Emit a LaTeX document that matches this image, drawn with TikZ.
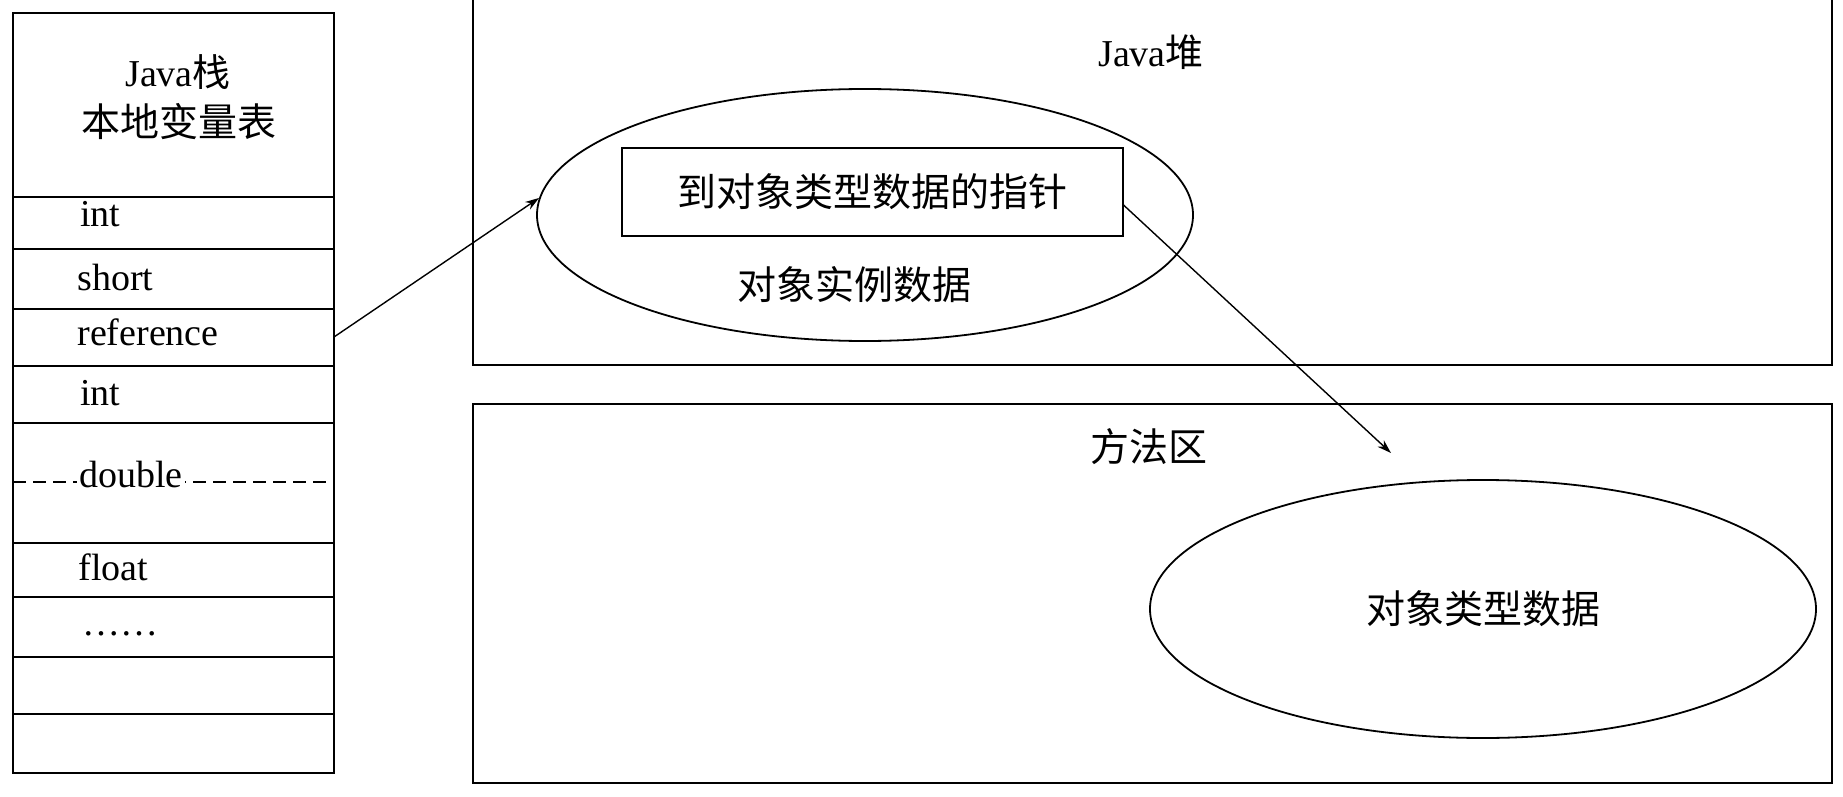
\documentclass[tikz,border=0pt]{standalone}
\usepackage{fontspec}
\setmainfont{Liberation Serif}
\newfontfamily\cjk{Noto Sans CJK SC}
\usetikzlibrary{arrows.meta,shapes.geometric}
\begin{document}
\begin{tikzpicture}[x=0.5pt,y=-0.5pt,
  frame/.style={line width=1.3pt},
  rowline/.style={line width=1.2pt},
  lbl/.style={inner sep=0pt, anchor=base west, font=\fontsize{19}{22}\selectfont},
  zh/.style={inner sep=0pt, font=\fontsize{19.5}{23}\selectfont\cjk},
  oval/.style={ellipse, draw, line width=0.9pt, inner sep=0pt},
  conn/.style={line width=0.7pt, -{Stealth[length=7pt,width=4.5pt]}}
]
\useasboundingbox (0,0) rectangle (1843,797);
\fill[white] (0,0) rectangle (1843,797);

% ---- Java stack ----
\draw[frame] (13,13) rectangle (334,773);
\foreach \yy in {197,249,309,366,423,543,597,657,714}
  \draw[rowline] (13,\yy) -- (334,\yy);
\draw[line width=0.8pt, dash pattern=on 6.5pt off 3.5pt] (13,482) -- (334,482);

\node[inner sep=0pt, font=\fontsize{19}{22}\selectfont] (sttitle) at (178,72) {Java{\cjk 栈}};
\node[zh] (sttitle2) at (179,122) {本地变量表};

\node[lbl] (r1) at (80,227) {int};
\node[lbl] (r2) at (77,290) {short};
\node[lbl] (r3) at (77,345) {reference};
\node[lbl] (r4) at (80,405) {int};
\node[lbl, fill=white, inner xsep=1pt] (r5) at (77,487) {double};
\node[lbl] (r6) at (78,580) {float};
\node[lbl] (r7) at (82,635) {……};
\coordinate (refR) at (334,337);

% ---- Java heap ----
\draw[frame] (473,0) -- (473,365) -- (1832,365) -- (1832,0);
\node[inner sep=0pt, font=\fontsize{19}{22}\selectfont] (heaplbl) at (1151,52) {Java{\cjk 堆}};
\node[oval, minimum width=328pt, minimum height=126pt] (obj) at (865,215) {};
\node[draw, line width=1pt, minimum width=250.5pt, minimum height=43.5pt, zh] (ptr) at (872,192) {到对象类型数据的指针};
\node[zh] (inst) at (854,285) {对象实例数据};

% ---- method area ----
\draw[frame] (473,404) rectangle (1832,783);
\node[zh] (malbl) at (1149,447) {方法区};
\node[oval, minimum width=333pt, minimum height=129pt] (cls) at (1483,609) {};
\node[zh] (clslbl) at (1483,609) {对象类型数据};
\coordinate (tip2) at (1391,453);

% ---- connectors ----
\draw[conn] (refR) -- (obj.177);
\draw[conn] ([yshift=-6.5pt]ptr.east) -- (tip2);
\end{tikzpicture}
\end{document}
